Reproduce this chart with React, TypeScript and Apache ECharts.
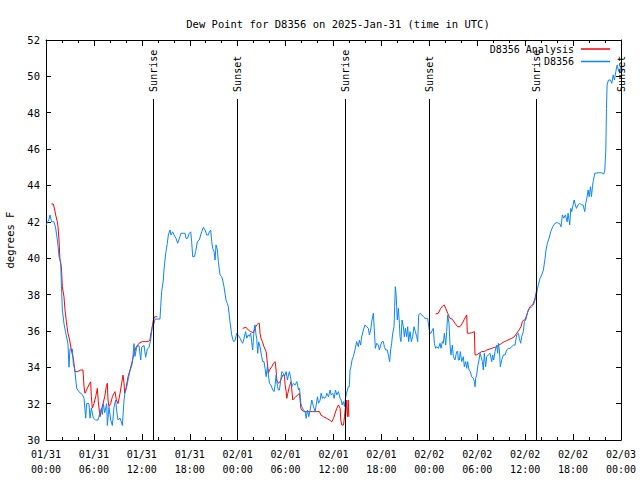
import React, { useEffect, useRef } from "react";
import * as echarts from "echarts";

const titleText = "Dew Point for D8356 on 2025-Jan-31 (time in UTC)";
const yAxisName = "degrees F";
const seriesNames = ["D8356 Analysis", "D8356"];

const xTickLabels = [
  "01/31\n00:00", "01/31\n06:00", "01/31\n12:00", "01/31\n18:00",
  "02/01\n00:00", "02/01\n06:00", "02/01\n12:00", "02/01\n18:00",
  "02/02\n00:00", "02/02\n06:00", "02/02\n12:00", "02/02\n18:00",
  "02/03\n00:00",
];

// hours since 01/31 00:00 UTC
const sunHours = [13.44, 23.96, 37.5, 47.98, 61.4, 71.95];
const sunLabels = ["Sunrise", "Sunset", "Sunrise", "Sunset", "Sunrise", "Sunset"];

const dewHours = [
  0, 0.2, 0.35, 0.5, 0.7, 1.0, 1.21, 1.42, 1.55, 1.63, 1.84, 1.92, 2.05, 2.25, 2.46, 2.75, 2.88, 3.0, 3.3, 3.42,
  3.59, 3.84, 4.13, 4.55, 4.76, 4.97, 5.09, 5.38, 5.51, 5.68, 5.93, 6.22, 6.51, 6.76, 6.93, 7.05, 7.18, 7.35, 7.6, 7.68,
  7.89, 8.1, 8.31, 8.51, 8.72, 8.85, 9.02, 9.27, 9.43, 9.56, 9.77, 9.89, 10.1, 10.27, 10.52, 10.81, 11.02, 11.14, 11.35, 11.65,
  11.86, 11.98, 12.27, 12.48, 12.69, 12.9, 13.1, 13.31, 13.52, 13.65, 14.27, 14.36, 14.48, 14.69, 14.77, 14.9, 15.02, 15.19, 15.32, 15.53,
  15.65, 15.86, 16.03, 16.28, 16.49, 16.7, 16.91, 17.2, 17.41, 17.53, 17.7, 17.95, 18.12, 18.24, 18.37, 18.58, 18.74, 18.95, 19.2, 19.37,
  19.5, 19.7, 19.91, 20.12, 20.33, 20.45, 20.62, 20.75, 20.87, 21.04, 21.17, 21.29, 21.46, 21.58, 21.79, 22.0, 22.12, 22.29, 22.54, 22.71,
  22.83, 23.04, 23.25, 23.46, 23.67, 23.88, 24.1, 24.3, 24.5, 24.63, 24.8, 25.0, 25.13, 25.34, 25.46, 25.63, 25.75, 25.88, 26.05, 26.17,
  26.3, 26.38, 26.51, 26.63, 26.8, 27.01, 27.14, 27.3, 27.43, 27.56, 27.72, 27.85, 27.98, 28.15, 28.4, 28.56, 28.69, 28.81, 28.98, 29.1,
  29.23, 29.4, 29.52, 29.73, 29.86, 30.07, 30.23, 30.36, 30.48, 30.65, 30.78, 30.99, 31.2, 31.41, 31.62, 31.74, 31.91, 32.03, 32.24, 32.45,
  32.58, 32.74, 32.91, 33.07, 33.28, 33.49, 33.7, 33.83, 34.0, 34.12, 34.33, 34.45, 34.62, 34.75, 34.87, 35.04, 35.16, 35.37, 35.58, 35.7,
  35.91, 36.08, 36.25, 36.41, 36.62, 36.83, 36.96, 37.08, 37.25, 37.38, 37.5, 37.63, 37.86, 37.98, 38.07, 38.19, 38.32, 38.48, 38.69, 38.9,
  39.11, 39.24, 39.4, 39.53, 39.74, 39.95, 40.15, 40.36, 40.49, 40.66, 40.82, 40.99, 41.11, 41.24, 41.41, 41.62, 41.74, 41.91, 42.07, 42.24,
  42.37, 42.53, 42.74, 42.91, 43.03, 43.16, 43.28, 43.41, 43.58, 43.66, 43.74, 43.83, 43.91, 43.99, 44.12, 44.25, 44.33, 44.45, 44.58, 44.75,
  44.87, 45.0, 45.16, 45.29, 45.41, 45.58, 45.75, 45.91, 46.08, 46.25, 46.42, 46.54, 46.67, 46.83, 47.04, 47.25, 47.46, 47.67, 47.79, 47.96,
  48.08, 48.2, 48.38, 48.5, 48.63, 48.79, 48.92, 49.13, 49.34, 49.46, 49.63, 49.75, 49.88, 50.05, 50.17, 50.3, 50.46, 50.59, 50.71, 50.88,
  51.01, 51.21, 51.42, 51.55, 51.63, 51.76, 51.88, 52.05, 52.26, 52.38, 52.55, 52.68, 52.8, 52.97, 53.13, 53.3, 53.51, 53.64, 53.72, 53.8,
  53.93, 54.05, 54.22, 54.35, 54.47, 54.64, 54.76, 54.89, 55.05, 55.18, 55.39, 55.6, 55.81, 55.93, 56.06, 56.22, 56.43, 56.56, 56.64, 56.77,
  56.89, 57.06, 57.27, 57.48, 57.68, 57.89, 58.1, 58.31, 58.52, 58.73, 58.94, 59.15, 59.27, 59.44, 59.56, 59.77, 59.9, 60.06, 60.23, 60.4,
  60.61, 60.81, 61.02, 61.23, 61.44, 61.55, 61.65, 61.86, 62.07, 62.28, 62.49, 62.61, 62.78, 62.99, 63.2, 63.45, 63.74, 64.04, 64.37, 64.49,
  64.66, 64.83, 65.04, 65.25, 65.37, 65.58, 65.71, 65.83, 66.0, 66.13, 66.29, 66.42, 66.63, 66.84, 67.04, 67.25, 67.46, 67.59, 67.76, 67.88,
  68.01, 68.18, 68.3, 68.43, 68.51, 68.72, 69.14, 69.55, 69.84, 69.97, 70.1, 70.18, 70.26, 70.43, 70.68, 70.85, 71.02, 71.18, 71.35, 71.52,
  71.68, 71.85, 71.93,
];
const dewValues = [
  41.8, 42.0, 42.1, 42.38, 42.0, 42.0, 41.66, 41.0, 40.5, 40.07, 39.8, 38.6, 37.15, 36.4, 35.9, 35.3, 34.0, 35.0, 35.0, 34.2,
  33.9, 32.85, 32.65, 32.5, 32.3, 31.2, 32.0, 32.0, 31.2, 31.75, 31.2, 31.1, 31.1, 31.5, 31.75, 31.4, 32.0, 31.5, 32.0, 30.8,
  31.8, 31.1, 30.8, 31.8, 32.2, 31.6, 31.1, 31.2, 31.0, 30.8, 32.2, 32.6, 32.9, 33.3, 33.8, 34.2, 35.3, 34.6, 35.1, 35.2,
  34.4, 35.1, 35.2, 34.55, 35.0, 35.1, 35.5, 36.23, 36.4, 36.65, 36.65, 37.33, 38.16, 38.8, 39.35, 39.9, 40.36, 40.82, 41.28, 41.55,
  41.28, 41.45, 41.28, 41.09, 40.82, 41.09, 41.37, 41.37, 41.37, 41.09, 41.09, 41.37, 41.45, 40.91, 40.08, 40.08, 40.36, 40.91, 41.0, 41.28,
  41.45, 41.7, 41.55, 41.28, 41.28, 41.45, 41.55, 40.91, 40.54, 40.36, 39.9, 40.73, 40.45, 39.82, 39.08, 38.99, 38.8, 38.43, 37.7, 37.5,
  37.33, 36.5, 35.78, 35.43, 35.46, 35.87, 35.75, 35.6, 35.4, 35.32, 35.6, 35.96, 35.6, 35.78, 35.7, 35.87, 35.4, 34.95, 36.05, 36.33,
  35.78, 35.6, 34.77, 35.4, 35.13, 34.58, 34.31, 34.31, 33.94, 33.48, 34.03, 33.57, 33.12, 33.03, 32.75, 32.66, 33.03, 33.57, 32.94, 32.75,
  32.75, 33.3, 33.76, 33.67, 33.48, 33.76, 33.3, 33.57, 33.76, 33.39, 32.94, 33.12, 33.03, 33.21, 32.75, 32.85, 32.02, 31.84, 31.65, 31.56,
  31.19, 31.65, 31.28, 31.65, 32.2, 31.84, 31.56, 31.93, 32.38, 32.02, 32.2, 32.57, 32.29, 32.38, 32.29, 32.38, 32.57, 32.38, 32.75, 32.48,
  32.57, 32.29, 32.75, 32.48, 32.66, 32.29, 32.2, 31.93, 32.11, 31.84, 32.29, 32.57, 32.93, 32.93, 33.85, 34.03, 34.4, 34.58, 34.95, 35.41,
  35.13, 35.5, 35.22, 35.68, 36.05, 36.33, 36.23, 36.14, 35.78, 36.05, 36.6, 36.97, 36.05, 35.04, 35.32, 35.22, 34.95, 35.22, 35.41, 35.41,
  35.13, 34.95, 34.95, 34.58, 34.31, 34.95, 35.32, 35.87, 36.23, 37.33, 38.43, 38.07, 37.33, 36.6, 37.24, 36.42, 35.68, 35.41, 36.6, 36.23,
  35.68, 36.14, 35.68, 36.23, 35.41, 35.96, 35.41, 35.68, 36.23, 35.96, 35.68, 35.41, 36.88, 36.97, 36.88, 36.78, 36.69, 36.69, 36.69, 36.14,
  35.87, 35.87, 36.05, 36.14, 35.32, 35.04, 35.13, 35.04, 35.32, 35.04, 35.41, 35.32, 35.87, 35.22, 35.96, 36.88, 36.42, 35.22, 34.68, 35.22,
  34.58, 34.4, 34.86, 34.86, 34.4, 34.4, 34.86, 34.31, 34.58, 34.03, 34.31, 33.94, 34.31, 33.85, 33.76, 33.48, 33.39, 33.21, 32.93, 33.39,
  33.57, 34.03, 34.4, 34.77, 34.58, 34.31, 33.85, 34.77, 34.03, 34.58, 34.68, 34.77, 34.31, 34.68, 34.4, 34.86, 35.22, 34.77, 35.32, 34.95,
  34.03, 34.4, 34.68, 34.68, 34.95, 35.04, 35.04, 35.13, 35.22, 35.22, 35.78, 35.87, 35.59, 35.32, 35.68, 35.96, 36.51, 36.6, 36.88, 37.15,
  37.24, 37.33, 37.42, 37.7, 38.07, 38.35, 38.53, 38.89, 39.08, 39.35, 39.99, 40.45, 40.82, 41.09, 41.46, 41.73, 41.92, 41.96, 41.87, 41.73,
  42.38, 42.2, 42.38, 42.0, 42.47, 41.83, 42.74, 42.56, 42.93, 43.2, 42.93, 42.74, 42.93, 43.02, 42.93, 42.93, 42.56, 43.02, 43.38, 43.75,
  43.38, 43.93, 43.38, 43.93, 44.21, 44.67, 44.7, 44.7, 44.63, 44.85, 45.95, 48.24, 49.53, 49.8, 49.8, 49.62, 50.08, 49.8, 50.26, 50.63,
  50.35, 50.17, 50.53,
];

// null marks a gap in the analysis record
const anaHours = [
  0.67, 0.92, 1.09, 1.21, 1.42, 1.5, 1.63, 1.75, 1.92, 2.05, 2.25, 2.38, 2.55, 2.75, 2.96, 3.17, 3.42, 3.63, 3.92, 4.13,
  4.34, 4.63, 4.76, 4.88, 5.17, 5.47, 5.59, 5.68, 5.8, 6.01, 6.22, 6.43, 6.55, 6.76, 6.93, 7.14, 7.35, 7.55, 7.68, 7.76,
  7.89, 8.1, 8.31, 8.51, 8.64, 8.81, 9.02, 9.27, 9.47, 9.64, 9.77, 9.85, 10.06, 10.27, 10.52, 10.73, 10.93, 11.1, 11.31, 11.65,
  12.06, 12.48, 12.77, 13.02, 13.1, 13.31, 13.44, 13.6, 13.73, 13.94, 14.1,
  24.63, 25.04, 25.34, 25.63, 25.96, 26.17, 26.38, 26.59, 26.71, 26.8, 26.92, 27.09, 27.3, 27.56, 27.72, 27.85, 27.98, 28.27, 28.48, 28.69,
  28.81, 28.9, 29.1, 29.31, 29.65, 29.86, 29.94, 30.07, 30.15, 30.28, 30.48, 30.69, 30.78, 30.9, 31.07, 31.28, 31.53, 31.74, 31.82, 31.91,
  32.03, 32.32, 32.66, 33.07, 33.41, 33.83, 34.25, 34.41, 34.75, 35.16, 35.5, 35.79, 36.0, 36.2, 36.41, 36.62, 36.83, 36.91, 37.04, 37.25,
  37.38, 37.5, 37.59, 37.67, 37.75, 37.84, 37.92, 38.1,
  48.79, 49.13, 49.42, 49.71, 49.88, 50.05, 50.3, 50.59, 50.88, 51.21, 51.55, 51.84, 52.13, 52.38, 52.68, 52.76, 53.01, 53.3, 53.64, 53.72,
  53.93, 54.22, 54.55, 54.89, 55.18, 55.47, 55.81, 56.14, 56.43, 56.72, 57.06, 57.39, 57.68, 57.98, 58.31, 58.64, 58.94, 59.23, 59.48, 59.65,
  59.81, 59.98, 60.19, 60.4, 60.61, 60.81, 61.02, 61.23, 61.44,
];
const anaValues = [
  42.98, 42.98, 42.65, 42.38, 42.0, 41.75, 41.0, 39.9, 39.53, 38.43, 37.88, 37.15, 36.51, 35.87, 35.5, 34.95, 34.49, 33.76, 33.76, 33.8,
  33.85, 33.85, 32.93, 32.57, 32.84, 33.12, 33.2, 32.38, 31.75, 32.0, 32.38, 32.84, 32.1, 31.28, 31.65, 32.0, 32.38, 32.93, 33.12, 32.2,
  31.84, 32.0, 32.38, 32.57, 32.66, 32.2, 32.0, 32.57, 33.12, 33.57, 33.12, 32.57, 32.93, 33.48, 33.85, 34.22, 34.58, 34.86, 35.13, 35.32,
  35.41, 35.41, 35.41, 35.5, 35.78, 36.23, 36.6, 36.78, 36.78, 36.78, null,
  36.14, 36.2, 36.05, 35.96, 35.9, 36.14, 36.33, 36.42, 36.42, 35.87, 35.6, 35.41, 35.13, 34.86, 34.22, 33.67, 33.85, 34.03, 34.22, 34.31,
  33.85, 33.3, 33.12, 33.21, 33.57, 33.57, 33.03, 32.66, 32.29, 32.57, 32.94, 33.21, 32.75, 32.2, 32.29, 32.38, 32.48, 32.57, 32.2, 31.75,
  31.65, 31.56, 31.56, 31.56, 31.56, 31.56, 31.56, 31.38, 31.28, 31.19, 31.1, 31.0, 31.19, 31.47, 31.74, 31.93, 31.74, 31.1, 30.82, 30.82,
  31.28, 31.84, 32.2, 31.65, 31.28, 32.2, 31.28, null,
  36.93, 36.97, 37.24, 37.39, 37.42, 37.24, 36.97, 36.69, 36.64, 36.42, 36.23, 36.23, 36.42, 36.64, 36.88, 35.87, 35.87, 35.9, 35.96, 34.68,
  34.68, 34.77, 34.86, 34.86, 34.95, 34.99, 35.04, 35.09, 35.13, 35.22, 35.32, 35.41, 35.46, 35.53, 35.59, 35.68, 35.87, 36.05, 36.23, 36.51,
  36.6, 36.6, 36.88, 37.15, 37.33, 37.42, 37.51, 37.79, 38.25,
];

const FONT = "DejaVu Sans Mono";
const SUN_LINE_TOP = 48.76;
const RED = "#ff0000";
const BLUE = "#0a86ff";

export default function App() {
  const ref = useRef<HTMLDivElement>(null);

  useEffect(() => {
    if (!ref.current) return;
    const chart = echarts.init(ref.current, undefined, { renderer: "svg" });

    const dewData = dewHours.map((h, i) => [h, dewValues[i]]);
    const anaData = anaHours.map((h, i) => [h, anaValues[i] === null ? "-" : anaValues[i]]);

    const baseX = {
      type: "value",
      min: 0,
      max: 72,
      interval: 6,
      axisLine: { show: true, onZero: false, lineStyle: { color: "#000", width: 1 } },
      axisTick: { show: true, inside: true, length: 6, lineStyle: { color: "#000" } },
      minorTick: { show: true, splitNumber: 3, length: 3, lineStyle: { color: "#000" } },
      splitLine: { show: false },
    };
    const baseY = {
      type: "value",
      min: 30,
      max: 52,
      interval: 2,
      axisLine: { show: true, onZero: false, lineStyle: { color: "#000", width: 1 } },
      axisTick: { show: true, inside: true, length: 5, lineStyle: { color: "#000" } },
      splitLine: { show: false },
    };

    const legendBase = {
      orient: "horizontal",
      align: "right",
      right: 30,
      itemWidth: 29,
      itemHeight: 1.5,
      itemGap: 0,
      padding: 0,
      icon: "rect",
      selectedMode: false,
      textStyle: { fontFamily: FONT, fontSize: 10, color: "#000", padding: [0, 2, 0, 0] },
    };

    chart.setOption({
      animation: false,
      backgroundColor: "#fff",
      title: {
        text: titleText,
        left: 333,
        top: 13,
        textAlign: "center",
        textStyle: { fontFamily: FONT, fontSize: 10.5, fontWeight: "normal", color: "#000" },
      },
      legend: [
        { ...legendBase, top: 44, data: [seriesNames[0]] },
        { ...legendBase, top: 56.5, data: [seriesNames[1]] },
      ],
      grid: { left: 46, right: 19, top: 40, bottom: 40, containLabel: false, outerBoundsMode: "none" },
      xAxis: [
        {
          ...baseX,
          position: "bottom",
          axisLabel: {
            show: true,
            margin: 7,
            color: "#000",
            fontFamily: FONT,
            fontSize: 10,
            lineHeight: 15,
            formatter: (v: number) => xTickLabels[Math.round(v / 6)] ?? "",
          },
        },
        { ...baseX, position: "top", axisLabel: { show: false } },
      ],
      yAxis: [
        {
          ...baseY,
          position: "left",
          name: yAxisName,
          nameLocation: "middle",
          nameGap: 31,
          nameTextStyle: { fontFamily: FONT, fontSize: 10.5, color: "#000" },
          axisLabel: { show: true, margin: 6, color: "#000", fontFamily: FONT, fontSize: 10.5 },
        },
        { ...baseY, position: "right", axisLabel: { show: false } },
      ],
      series: [
        {
          name: seriesNames[0],
          type: "line",
          data: anaData,
          symbol: "none",
          connectNulls: false,
          lineStyle: { color: RED, width: 1 },
          itemStyle: { color: RED },
          z: 2,
        },
        {
          name: seriesNames[1],
          type: "line",
          data: dewData,
          symbol: "none",
          lineStyle: { color: BLUE, width: 1 },
          itemStyle: { color: BLUE },
          z: 3,
        },
        {
          name: "sun",
          type: "custom",
          silent: true,
          clip: false,
          z: 4,
          data: sunHours.map((h) => [h, SUN_LINE_TOP]),
          renderItem: (params: any, api: any) => {
            const top = api.coord([api.value(0), api.value(1)]);
            const bot = api.coord([api.value(0), 30]);
            const x = Math.round(top[0]) + 0.5;
            return {
              type: "group",
              children: [
                {
                  type: "line",
                  shape: { x1: x, y1: top[1], x2: x, y2: bot[1] },
                  style: { stroke: "#000", lineWidth: 1 },
                },
                {
                  type: "text",
                  x: x,
                  y: top[1] - 7,
                  rotation: Math.PI / 2,
                  style: {
                    text: sunLabels[params.dataIndex],
                    fill: "#000",
                    fontFamily: FONT,
                    fontSize: 10,
                    align: "left",
                    verticalAlign: "middle",
                  },
                },
              ],
            };
          },
        },
      ],
    });

    return () => chart.dispose();
  }, []);

  return (
    <div
      ref={ref}
      style={{ position: "fixed", left: 0, top: 0, width: 640, height: 480, background: "#fff" }}
    />
  );
}
